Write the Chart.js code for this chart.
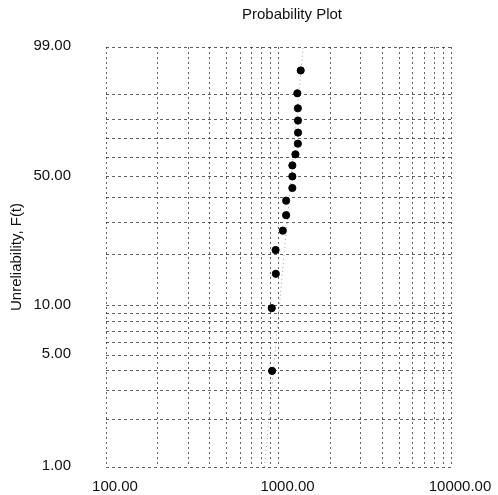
<!DOCTYPE html>
<html>
<head>
<meta charset="utf-8">
<script src="https://cdn.jsdelivr.net/npm/chart.js"></script>
<style>
  html, body { margin: 0; padding: 0; background: #fff; overflow: hidden; }
  canvas { display: block; }
</style>
</head>
<body>
<canvas id="probChart" width="498" height="495"></canvas>
<script>
// Failure times (hours) and median-rank unreliability (%)
const failTimes = [918, 914, 965, 962, 1059, 1107, 1107, 1203, 1203, 1203, 1253, 1295, 1298, 1297, 1295, 1286, 1345];
const unreliability = [4.0, 9.7, 15.5, 21.2, 27.1, 32.7, 38.7, 44.5, 50.2, 55.9, 61.8, 67.5, 73.3, 79.3, 84.8, 90.4, 96.2];

// Faint fitted line end points
const fitTimes = [830, 1390];
const fitUnrel = [1, 99];

// Grid / tick values
const yGridPct = [1, 2, 3, 4, 5, 6, 7, 8, 9, 10, 20, 30, 40, 50, 60, 70, 80, 90, 99];
const yLabelPct = [1, 5, 10, 50, 99];
const xGridVals = [100, 200, 300, 400, 500, 600, 700, 800, 900,
                   1000, 2000, 3000, 4000, 5000, 6000, 7000, 8000, 9000, 10000];
const xLabelVals = [100, 1000, 10000];

// Weibull probability paper transform
function weib(p) {
    return Math.log(-Math.log(1 - p / 100));
}

const FONT = 'Liberation Sans, Arial, sans-serif';
const gridColor = 'rgba(30,30,30,0.7)';

// Title drawn a bit right of centre like the original
const titlePlugin = {
    id: 'plotTitle',
    afterDraw(chart) {
        const ctx = chart.ctx;
        ctx.save();
        ctx.font = '15px ' + FONT;
        ctx.fillStyle = '#111';
        ctx.textAlign = 'center';
        ctx.textBaseline = 'middle';
        ctx.fillText('Probability Plot', 292, 15);
        ctx.restore();
    }
};

new Chart(document.getElementById('probChart'), {
    type: 'scatter',
    data: {
        datasets: [{
            label: 'Fit',
            type: 'line',
            data: fitTimes.map((t, i) => ({ x: t, y: weib(fitUnrel[i]) })),
            borderColor: 'rgba(60,60,60,0.45)',
            borderWidth: 1,
            borderDash: [1, 3],
            pointRadius: 0,
            fill: false
        }, {
            label: 'Data',
            data: failTimes.map((t, i) => ({ x: t, y: weib(unreliability[i]) })),
            backgroundColor: '#000',
            borderColor: '#000',
            pointRadius: 3.6,
            pointHoverRadius: 3.6
        }]
    },
    options: {
        responsive: false,
        animation: false,
        devicePixelRatio: 1,
        layout: { padding: { top: 47, right: 47, left: 0, bottom: 0 } },
        plugins: {
            legend: { display: false },
            title: { display: false },
            tooltip: { enabled: false }
        },
        scales: {
            x: {
                type: 'logarithmic',
                min: 100,
                max: 10000,
                afterBuildTicks: function(scale) {
                    scale.ticks = xGridVals.map(v => ({ value: v }));
                },
                afterFit: function(scale) {
                    scale.height = 28;
                    scale.paddingLeft = 0;
                    scale.paddingRight = 0;
                },
                ticks: {
                    autoSkip: false,
                    maxRotation: 0,
                    padding: 11,
                    labelOffset: 9,
                    color: '#111',
                    font: { family: FONT, size: 15 },
                    callback: function(value) {
                        return xLabelVals.includes(value) ? value.toFixed(2) : '';
                    }
                },
                grid: {
                    color: gridColor,
                    lineWidth: 1,
                    drawTicks: false
                },
                border: { display: false, dash: [2, 3] }
            },
            y: {
                type: 'linear',
                min: weib(1),
                max: weib(99),
                afterBuildTicks: function(scale) {
                    scale.ticks = yGridPct.map(p => ({ value: weib(p) }));
                },
                afterFit: function(scale) {
                    scale.width = 106;
                    scale.paddingTop = 0;
                    scale.paddingBottom = 0;
                },
                ticks: {
                    autoSkip: false,
                    padding: 35,
                    labelOffset: -1,
                    color: '#111',
                    font: { family: FONT, size: 15 },
                    callback: function(value, index) {
                        const p = yGridPct[index];
                        return yLabelPct.includes(p) ? p.toFixed(2) : '';
                    }
                },
                title: {
                    display: true,
                    text: 'Unreliability, F(t)',
                    color: '#111',
                    font: { family: FONT, size: 15 },
                    padding: { top: 8, bottom: 0 }
                },
                grid: {
                    color: gridColor,
                    lineWidth: 1,
                    drawTicks: false
                },
                border: { display: false, dash: [3, 3] }
            }
        }
    },
    plugins: [titlePlugin]
});
</script>
</body>
</html>
